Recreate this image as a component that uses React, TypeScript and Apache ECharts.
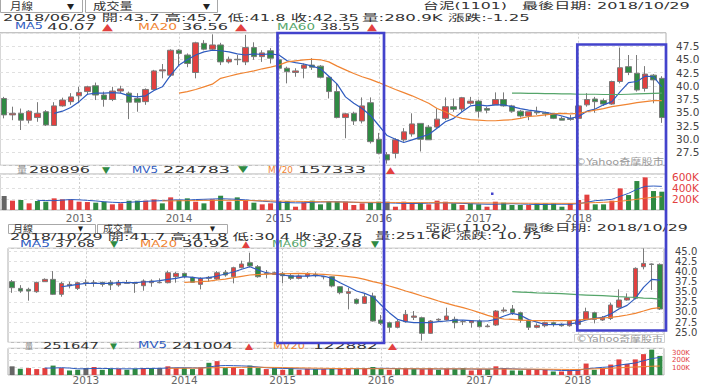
import React, { useEffect, useRef } from 'react';
import * as echarts from 'echarts';

const months = [
  '2012/03','2012/04','2012/05','2012/06','2012/07','2012/08','2012/09','2012/10','2012/11','2012/12',
  '2013/01','2013/02','2013/03','2013/04','2013/05','2013/06','2013/07','2013/08','2013/09','2013/10','2013/11','2013/12',
  '2014/01','2014/02','2014/03','2014/04','2014/05','2014/06','2014/07','2014/08','2014/09','2014/10','2014/11','2014/12',
  '2015/01','2015/02','2015/03','2015/04','2015/05','2015/06','2015/07','2015/08','2015/09','2015/10','2015/11','2015/12',
  '2016/01','2016/02','2016/03','2016/04','2016/05','2016/06','2016/07','2016/08','2016/09','2016/10','2016/11','2016/12',
  '2017/01','2017/02','2017/03','2017/04','2017/05','2017/06','2017/07','2017/08','2017/09','2017/10','2017/11','2017/12',
  '2018/01','2018/02','2018/03','2018/04','2018/05','2018/06','2018/07','2018/08','2018/09','2018/10',
];
const yearTickIdx = [9, 21, 33, 45, 57, 69];
const yearLabels = ['2013', '2014', '2015', '2016', '2017', '2018'];

// ---- 台泥 (1101) ----
const topOpen = [37.6,34.5,34.8,33.5,34.0,35.1,32.5,36.2,37.0,38.1, 38.9,40.0,38.25,37.4,39.0,38.6,37.6,37.0,39.3,42.8, 42.0,46.7,45.8,42.5,48.0,46.9,47.7,44.5,45.0,44.5, 47.2,45.5,46.6,44.9,43.3,42.5,43.3,43.9,43.7,41.6, 38.9,34.0,34.8,33.35,36.8,29.9,27.0,27.25,29.8,30.9, 32.9,32.2,32.2,33.85,36.05,35.6,36.7,37.1,35.7,36.4, 37.4,36.2,35.2,34.3,35.1,34.9,34.7,33.85,33.8,33.85, 36.4,37.5,37.2,36.55,40.8,43.6,42.35,39.5,42.0,41.4];
const topClose = [34.5,34.8,33.5,35.2,34.8,32.6,36.2,37.3,37.9,38.75, 39.8,38.25,37.4,39.0,39.4,36.9,36.9,39.3,42.8,43.0, 46.7,46.1,44.2,48.1,46.9,47.7,44.5,45.0,44.9,47.2, 45.5,46.2,45.2,43.3,42.65,42.8,43.9,43.5,41.6,38.9, 34.0,34.7,33.35,36.2,29.45,27.25,26.0,29.8,31.3,32.8, 29.9,29.8,33.7,36.05,35.55,37.75,37.1,35.2,35.4,37.4, 36.2,35.2,34.3,35.1,34.9,34.7,33.85,33.5,33.65,36.2, 37.4,37.0,36.55,40.8,43.4,42.5,39.2,42.2,41.1,34.0];
const topLow = [33.85,33.5,31.65,32.9,33.2,32.4,32.4,36.05,36.4,36.7, 38.25,37.3,36.05,37.1,38.6,33.7,35.1,36.4,39.2,41.4, 41.7,43.9,43.5,41.4,46.7,46.7,43.9,44.2,43.9,43.9, 44.9,44.5,44.2,43.0,40.45,41.7,41.4,43.0,41.4,37.6, 33.85,30.1,32.6,32.9,29.1,27.05,25.3,26.3,29.45,30.4, 27.6,29.8,32.0,33.5,35.1,35.1,36.4,34.0,34.8,36.4, 36.05,34.9,34.0,33.5,34.5,34.2,33.7,33.5,33.4,33.7, 36.05,34.9,36.2,36.4,40.45,42.0,38.9,38.9,36.7,33.0];
const topHigh = [37.9,36.05,35.7,35.4,36.9,35.4,36.9,37.75,38.6,39.8, 40.0,40.6,38.9,39.8,40.0,38.9,38.6,39.5,43.0,44.1, 46.87,46.9,46.1,48.3,48.6,49.7,48.1,45.5,45.8,49.6, 48.2,46.7,47.1,45.2,43.6,43.3,44.2,45.2,43.9,41.8, 40.45,34.9,35.1,37.8,37.8,31.1,27.5,30.1,32.0,34.8, 32.9,32.6,35.7,37.8,37.6,37.9,37.9,37.4,36.05,38.75, 38.75,36.4,35.4,35.1,36.05,35.1,34.8,34.2,34.5,36.4, 38.6,37.9,37.6,40.96,47.2,45.8,45.8,43.7,42.2,41.8];
const N6 = [null, null, null, null, null, null];
const N21 = Array(21).fill(null);
const N61 = Array(61).fill(null);
const topMA5 = [...N6, 34.8,35.2,35.9,37.0, 38.4,38.6,38.6,38.7,38.6,38.1,37.9,38.1,39.1,39.8, 42.0,43.9,44.9,45.8,46.4,46.7,46.6,46.4,46.0,45.8, 46.0,45.9,46.0,45.8,44.7,44.35,44.1,43.7,43.2,41.8, 40.3,37.9,36.7,35.7,34.4,32.5,30.6,29.9,29.3,29.8, 30.3,30.8,32.0,33.2,33.85,35.1,36.2,36.4,36.2,36.4, 36.4,36.05,35.7,35.4,35.2,35.0,34.7,34.3,33.85,34.2, 35.2,35.6,36.4,37.0,38.9,40.6,40.8,41.8,41.7,39.8];
const topMA20 = [...N21, 38.6,38.9,39.3,39.8,40.3,41.4,41.8,42.2,42.5, 42.8,43.2,43.5,43.9,44.5,44.7,44.9,45.0,44.9,44.5, 43.7,43.0,42.3,41.7,41.2,40.6,39.95,39.3,38.7,38.1, 37.4,36.7,35.7,35.1,34.3,33.85,33.6,33.5,33.4,33.4, 33.5,33.6,33.85,34.2,34.3,34.5,34.7,34.8,34.7,34.8, 35.1,35.4,35.7,36.05,36.3,36.55,36.8,37.0,37.2,37.2];
const topMA60 = [...N61, 38.6,38.6,38.55,38.55,38.5,38.5,38.45,38.45,38.4,38.4,38.4,38.35,38.35,38.35,38.4,38.45,38.5,38.55,38.6];
const topVol = [254,170,182,121,164,151,212,194,194,151, 145,133,151,103,121,170,170,170,194,121, 230,182,212,151,121,194,260,151,230,182, 133,103,121,164,164,60,139,170,103,151, 151,151,91,121,133,151,151,60,151,133, 133,103,170,151,121,91,121,103,60,151, 133,91,91,91,121,121,121,60,121,182, 279,103,103,170,393,272,527,594,345,333];
const topVolDir = ('krgrggrrrr' + 'rggrrggrrg' + 'rggrgrgrgr' + 'grrggrrggg' + 'grrrggkrrr' + 'grrrgrggrr' + 'gggrggggrr' + 'rggrrggrgg').split('');
const topMV5 = [null,null,null,null, 175,172,170,180,190,185,175,165,150,140, 135,140,150,160,165,170,180,185,180,190, 195,200,205,200,195,185,170,160,150,140, 135,130,130,140,145,150,150,145,140,135, 130,135,130,125,120,118,120,125,130,130, 125,120,115,110,105,105,110,115,110,105, 100,100,105,105,105,115,140,170,180,194, 250,303,376,430,436,430];
const topMV20 = [...Array(19).fill(null), 165,165,168,170,172,175,175,176,176,175,172,170,168,165,162, 160,158,155,152,150,148,146,144,142,140,140,139,138,137,136,135, 135,134,133,132,131,130,130,129,128,127,126,125,124,123,122,122,122,121,121,122, 130,135,140,148,160,175,195,215,232,242];

// ---- 亞泥 (1102) ----
const botOpen = [37.45,35.8,35.56,34.98,37.45,38.02,34.33,36.46,35.8,37.04, 37.04,37.28,37.28,36.63,37.04,37.04,36.46,37.2,37.2,37.2, 38.68,39.5,38.52,36.79,38.27,38.1,39.75,38.68,40.9,42.13, 41.14,39.5,39.25,39.5,38.93,38.27,38.84,39.25,38.68,38.68, 36.22,34.57,33.1,32.11,33.92,28.0,27.35,26.2,27.6,28.66, 28.58,24.72,28.0,28.0,28.17,27.6,27.35,27.76,26.36,26.77, 30.22,30.72,29.81,27.76,26.2,26.6,27.35,26.93,26.6,26.93, 28.17,29.81,28.0,28.4,31.13,32.93,33.34,41.14,41.8,41.71];
const botClose = [35.97,35.15,35.15,37.28,38.02,34.33,37.04,36.79,37.2,37.2, 37.2,36.79,36.63,37.28,37.2,37.04,37.61,37.61,37.28,39.66, 39.5,38.68,37.28,38.27,38.52,39.66,39.09,40.9,41.8,41.31, 38.68,39.34,39.66,38.93,38.27,38.84,39.5,38.93,38.68,36.38, 34.74,34.98,32.11,33.75,27.76,27.18,26.2,27.6,29.4,28.99, 24.72,27.76,28.17,28.99,27.35,27.6,27.84,26.36,26.53,30.22, 30.47,29.81,28.0,26.2,26.69,27.35,26.93,26.6,27.76,28.0, 30.06,28.17,28.66,31.7,32.93,33.5,40.73,41.96,41.71,30.71];
const botLow = [34.7,34.7,32.77,34.7,37.45,34.16,33.75,35.8,35.4,36.38, 36.2,36.2,35.4,36.2,37.04,34.7,35.23,36.2,37.04,37.04, 37.2,38.27,37.2,35.56,37.45,37.86,38.68,37.04,40.73,40.98, 38.43,38.27,39.09,37.04,37.86,38.02,38.27,38.52,38.02,36.05, 34.33,30.63,31.86,31.95,27.6,26.77,24.9,25.95,27.35,28.0, 22.92,24.56,27.6,27.84,25.95,26.77,26.12,26.12,26.2,26.53, 29.81,29.24,27.35,25.54,25.95,26.2,26.36,26.36,26.36,26.36, 28.0,27.18,27.76,28.0,30.88,32.76,33.09,40.48,35.39,30.47];
const botHigh = [37.86,36.6,35.97,37.45,38.27,40.07,37.45,37.45,37.45,38.02, 37.86,37.45,37.86,37.86,37.86,37.2,38.02,38.02,38.27,40.16, 39.91,39.66,38.68,38.52,38.84,40.07,40.32,41.14,42.62,44.59, 41.55,40.32,39.91,39.91,39.34,39.25,39.75,39.75,38.84,38.84, 36.38,35.97,33.34,34.57,34.74,29.24,27.6,28.0,30.47,30.22, 28.83,28.0,28.42,31.04,28.83,28.0,28.0,28.17,27.02,30.47, 31.13,31.7,30.06,28.0,27.18,27.6,27.6,27.18,28.0,28.4, 31.04,30.06,28.99,32.27,35.56,34.57,40.98,45.65,41.96,41.96];
const botMA5 = [...N6, 36.2,36.46,36.79,37.04, 37.04,37.04,37.04,37.2,37.2,37.2,37.37,37.45,37.7,38.02, 38.27,38.68,38.52,38.27,38.43,38.84,39.34,39.83,40.5,41.14, 40.32,39.66,39.34,39.09,38.84,38.84,38.84,39.0,38.84,38.27, 37.2,36.22,35.15,34.57,33.75,31.7,29.81,28.17,27.6,27.35, 27.35,27.35,27.6,27.76,28.0,28.0,27.84,27.76,27.76,28.17, 28.99,29.65,29.2,28.1,27.5,26.9,26.85,26.93,27.02,27.35, 28.0,28.4,28.66,29.48,30.71,31.61,33.34,36.05,38.02,37.85];
const botMA20 = [...N21, 37.28,37.37,37.45,37.61,37.86,38.1,38.43,38.76,39.09, 39.2,39.3,39.35,39.4,39.45,39.5,39.42,39.34,39.25,39.09, 38.93,38.68,38.43,38.02,37.45,37.04,36.38,35.8,35.15,34.57, 33.92,33.34,32.69,32.11,31.54,31.04,30.47,29.81,29.16,28.58, 28.25,28.17,28.0,27.9,27.85,27.84,27.84,27.84,27.84,28.0, 28.17,28.33,28.5,28.66,28.9,29.24,29.65,30.22,30.8,31.04];
const botMA60 = [...N61, 34.98,34.9,34.8,34.7,34.65,34.57,34.49,34.4,34.24,34.16,34.08,34.0,33.9,33.75,33.67,33.6,33.42,33.34,33.17];
const botVol = [119,86,95,81,95,129,95,62,71,95, 110,71,86,86,71,86,95,95,95,119, 95,95,81,105,167,190,95,110,81,129, 95,81,95,71,95,71,86,81,81,86, 86,95,81,95,110,86,71,81,95,86, 81,95,71,86,81,95,62,81,81,119, 95,62,62,81,71,71,48,48,71,81, 157,71,95,143,214,152,214,286,348,262];
const botVolDir = ('kgrrrgrggk' + 'rggrggrgkr' + 'rggrgrgrrg' + 'grgrgrrgrg' + 'rrgrggrgrg' + 'rrgrggrrgr' + 'rggrrrgrrr' + 'rgrrrrrrgg').split('');
const botMV5 = [null,null,null,null, 95,95,100,95,85,85,90,90,88,85, 85,85,88,90,92,95,100,100,98,95, 110,125,130,128,125,120,110,100,95,90, 88,85,82,80,82,84,85,86,86,88, 90,92,90,88,86,85,84,84,83,84, 84,83,82,80,80,85,88,85,80,78, 76,72,68,62,60,64,85,95,105,112, 135,150,165,195,225,241];
const botMV20 = [...Array(19).fill(null), 92,92,93,94,95,98,100,102,104,105,106,106,105,104,102, 100,98,96,94,92,90,89,88,87,86,86,86,85,85,85,85, 85,85,84,84,84,83,83,83,82,82,82,81,80,80,80,79,78,77,76,76, 80,84,88,92,98,104,110,116,120,123];

const RED = '#e2403f';
const GREEN = '#2f8a43';
const GRAY = '#666666';
const MA5C = '#2e5bbf';
const MA20C = '#f08432';
const MA60C = '#55a56a';
const RECT = '#4343cc';
const FONT = '"DejaVu Sans", "Noto Sans CJK TC", sans-serif';

const dirColor = (d: string) => (d === 'r' ? RED : d === 'g' ? GREEN : GRAY);

export default function App() {
  const ref = useRef<HTMLDivElement>(null);
  useEffect(() => {
    document.body.style.margin = '0';
    const chart = echarts.init(ref.current!, undefined, { renderer: 'svg' });
    const ctx = document.createElement('canvas').getContext('2d')!;
    const txt = (text: string, x0: number, x1: number, y: number, fill: string, size = 9.5) => {
      const font = `${size}px ${FONT}`;
      ctx.font = font;
      const w = ctx.measureText(text).width || 1;
      return {
        type: 'text', x: x0, y, scaleX: (x1 - x0) / w, z: 50,
        style: { text, font, fill, align: 'left', verticalAlign: 'middle' },
      };
    };
    const box = (x: number, y: number, w: number, h: number, stroke = '#a8a8a8', z = 40) => ({
      type: 'rect', z, shape: { x, y, width: w, height: h },
      style: { fill: '#fff', stroke, lineWidth: 1 },
    });
    const D = '#333';
    const graphic: any[] = [
      // top header
      box(0.5, -2, 82, 14.5), box(85.5, -2, 132, 14.5),
      txt('月線', 10, 33, 6.5, D, 10), txt('▼', 67, 74, 6, '#222', 8),
      txt('成交量', 93, 133, 6.5, D, 10), txt('▼', 203, 210, 6, '#222', 8),
      txt('台泥(1101)', 423, 507, 6, D), txt('最後日期: 2018/10/29', 522, 690, 6, D),
      txt('2018/06/29 開:43.7 高:45.7 低:41.8 收:42.35', 3, 359, 17.3, D),
      txt('量:280.9K 漲跌:-1.25', 362, 530, 17.3, D),
      txt('MA5', 15, 43, 26.5, MA5C), txt('40.07', 47, 95, 26.5, D), txt('▲', 102, 113, 26.5, RED),
      txt('MA20', 138, 177, 26.5, MA20C), txt('36.56', 182, 228, 26.5, D), txt('▲', 235, 247, 26.5, RED),
      txt('MA60', 277, 315, 26.5, MA60C), txt('38.55', 320, 360, 26.5, D), txt('▲', 367, 377, 26.5, RED),
      txt('©Yahoo奇摩股市', 575, 664, 161.5, '#999', 9),
      // top volume legend
      txt('量', 17, 27, 169.5, '#888', 9), txt('280896', 29, 90, 169.5, D, 9), txt('▼', 102, 110, 169.5, GREEN, 9),
      txt('MV5', 132, 158, 169.5, MA5C, 9), txt('224783', 163, 230, 169.5, D, 9), txt('▼', 238, 248, 169.5, GREEN, 9),
      txt('MV20', 268, 293, 169.5, MA20C, 9), txt('157333', 298, 366, 169.5, D, 9), txt('▲', 386, 395, 169.5, RED, 9),
      // bottom header
      box(8.5, 224.5, 87, 9), box(97.5, 224.5, 130, 9),
      txt('月線', 13, 33, 229, D, 9), txt('▼', 78, 83, 228.5, '#222', 7),
      txt('成交量', 103, 133, 229, D, 9), txt('▼', 210, 215, 228.5, '#222', 7),
      txt('亞泥(1102)', 425, 507, 228, D, 9), txt('最後日期: 2018/10/29', 523, 688, 228, D, 9),
      txt('2018/10/29 開:41.7 高:41.8 低:30.4 收:30.75', 10, 363, 236.8, D, 9),
      txt('量:251.6K 漲跌: 10.75', 375, 542, 236.3, D, 9),
      txt('MA5', 20, 50, 244, MA5C, 9), txt('37.68', 55, 95, 244, D, 9), txt('▼', 110, 118, 244, GREEN, 9),
      txt('MA20', 140, 177, 244, MA20C, 9), txt('30.92', 182, 230, 244, D, 9), txt('▲', 242, 250, 244, RED, 9),
      txt('MA60', 272, 307, 244, MA60C, 9), txt('32.98', 313, 362, 244, D, 9), txt('▼', 371, 379, 244, GREEN, 9),
      box(574.5, 334.5, 90, 8, '#d0d0d0', 45),
      txt('©Yahoo奇摩股市', 576, 663, 338.7, '#999', 8),
      txt('量', 25, 33, 345.8, '#888', 8.5), txt('251647', 43, 99, 345.8, D, 8.5), txt('▼', 110, 117, 345.8, GREEN, 8.5),
      txt('MV5', 138, 167, 345.8, MA5C, 8.5), txt('241004', 172, 233, 345.8, D, 8.5), txt('▲', 245, 253, 345.8, RED, 8.5),
      txt('MV20', 273, 305, 345.8, MA20C, 8.5), txt('122882', 313, 378, 345.8, D, 8.5), txt('▲', 388, 397, 345.8, RED, 8.5),
      // highlight rectangles
      { type: 'rect', z: 100, shape: { x: 277.5, y: 33, width: 106.5, height: 310 }, style: { fill: 'none', stroke: RECT, lineWidth: 2.7 } },
      { type: 'rect', z: 100, shape: { x: 577.3, y: 44.5, width: 88.7, height: 286 }, style: { fill: 'none', stroke: RECT, lineWidth: 2.7 } },
      { type: 'rect', z: 100, shape: { x: 491, y: 192.5, width: 2.5, height: 2.5 }, style: { fill: RECT } },
    ];

    const isYear = (idx: number) => yearTickIdx.includes(idx);
    const grids = [
      { left: 0, top: 32.75, width: 666, height: 132.5 },
      { left: 0, top: 174, width: 666, height: 36 },
      { left: 8, top: 248.2, width: 656, height: 94.15 },
      { left: 8, top: 348.3, width: 656, height: 26.7 },
    ].map((g) => ({ ...g, show: true, borderColor: '#b0b0b0', borderWidth: 1, backgroundColor: '#fff' }));

    const xAxis = [0, 1, 2, 3].map((i) => ({
      type: 'category', gridIndex: i, data: months, boundaryGap: true,
      axisLine: { show: false }, axisTick: { show: false },
      axisLabel: {
        show: i === 1 || i === 3, interval: (idx: number) => isYear(idx),
        formatter: (_v: string, idx: number) => yearLabels[yearTickIdx.indexOf(idx)] ?? '',
        color: '#666', fontSize: 10.5, fontFamily: FONT, margin: i === 1 ? 3 : 0,
      },
      splitLine: { show: true, alignWithLabel: true, interval: (idx: number) => isYear(idx), lineStyle: { color: '#cfcfcf', type: [2, 2], width: 1 } },
    }));

    const yBase = {
      type: 'value', position: 'right', axisLine: { show: false }, axisTick: { show: false },
      splitLine: { show: true, lineStyle: { color: '#e0e0e0', type: [3, 3], width: 1 } },
    };
    const yAxis = [
      { ...yBase, gridIndex: 0, min: 25, max: 50, interval: 2.5,
        axisLabel: { showMinLabel: false, showMaxLabel: false, formatter: (v: number) => v.toFixed(1), color: '#444', fontSize: 10.5, fontFamily: FONT, margin: 10 } },
      { ...yBase, gridIndex: 1, min: 0, max: 655, interval: 200,
        axisLabel: { showMinLabel: false, showMaxLabel: false, formatter: (v: number) => v + 'K', color: RED, fontSize: 10.5, fontFamily: FONT, margin: 6 } },
      { ...yBase, gridIndex: 2, min: 22.5, max: 45.7, interval: 2.5,
        axisLabel: { showMinLabel: false, showMaxLabel: false, formatter: (v: number) => v.toFixed(1), color: '#444', fontSize: 10, fontFamily: FONT, margin: 11 } },
      { ...yBase, gridIndex: 3, min: 0, max: 366, interval: 100,
        axisLabel: { showMinLabel: false, showMaxLabel: false, formatter: (v: number) => v + 'K', color: RED, fontSize: 7, lineHeight: 7, fontFamily: FONT, margin: 8 } },
    ];

    const candles = (o: number[], c: number[], l: number[], h: number[]) => o.map((_, i) => [o[i], c[i], l[i], h[i]]);
    const candleStyle = { color: RED, color0: GREEN, borderColor: '#7a7a7a', borderColor0: '#7a7a7a', borderWidth: 1 };
    const line = (data: any[], color: string, xi: number, w = 1.2) => ({
      type: 'line', xAxisIndex: xi, yAxisIndex: xi, data, symbol: 'none', silent: true,
      lineStyle: { color, width: w }, z: 5,
    });
    const vol = (v: number[], d: string[]) => v.map((x, i) => ({ value: x, itemStyle: { color: dirColor(d[i]) } }));

    const series: any[] = [
      { type: 'candlestick', xAxisIndex: 0, yAxisIndex: 0, barWidth: 6, data: candles(topOpen, topClose, topLow, topHigh), itemStyle: candleStyle },
      line(topMA5, MA5C, 0), line(topMA20, MA20C, 0), line(topMA60, MA60C, 0),
      { type: 'bar', xAxisIndex: 1, yAxisIndex: 1, barWidth: 5, data: vol(topVol, topVolDir) },
      line(topMV5, MA5C, 1, 1), line(topMV20, MA20C, 1, 1),
      { type: 'candlestick', xAxisIndex: 2, yAxisIndex: 2, barWidth: 5, data: candles(botOpen, botClose, botLow, botHigh), itemStyle: candleStyle },
      line(botMA5, MA5C, 2), line(botMA20, MA20C, 2), line(botMA60, MA60C, 2),
      { type: 'bar', xAxisIndex: 3, yAxisIndex: 3, barWidth: 5, data: vol(botVol, botVolDir) },
      line(botMV5, MA5C, 3, 1), line(botMV20, MA20C, 3, 1),
    ];

    chart.setOption({
      animation: false,
      backgroundColor: '#fff',
      textStyle: { fontFamily: FONT },
      grid: grids, xAxis, yAxis, series, graphic,
    });
    return () => chart.dispose();
  }, []);
  return <div ref={ref} style={{ position: 'absolute', left: 0, top: 0, width: 720, height: 386, background: '#fff' }} />;
}
